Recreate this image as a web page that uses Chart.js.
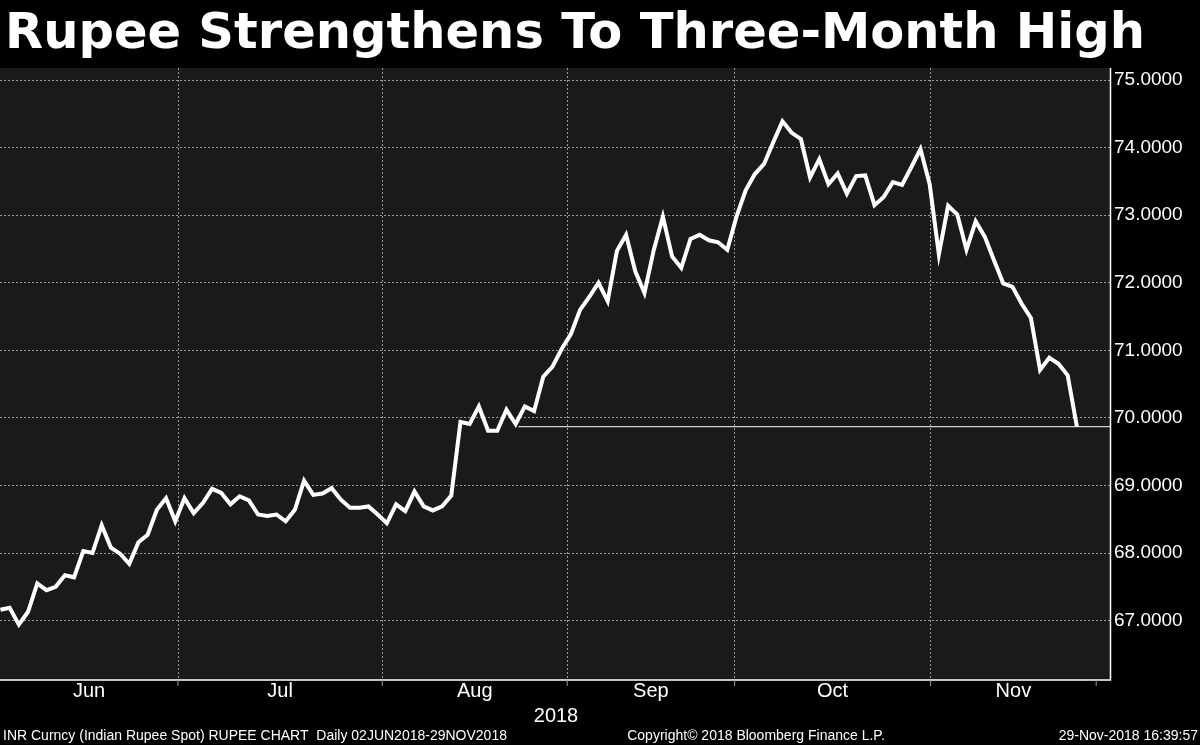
<!DOCTYPE html>
<html><head><meta charset="utf-8">
<script src="https://cdn.jsdelivr.net/npm/chart.js@4.4.1/dist/chart.umd.min.js"></script>
<style>html,body{margin:0;padding:0;background:#000;}#w{width:1200px;height:745px;position:relative;}</style>
</head><body><div id="w"><canvas id="c" width="1200" height="745"></canvas></div>
<script>
const title = "Rupee Strengthens To Three-Month High";
const monthNames = ["Jun","Jul","Aug","Sep","Oct","Nov"];
// month boundaries in trading-day index units
const monthEdges = [-0.5, 19.3, 41.5, 61.6, 79.8, 101.1, 119.1];
const yearLabel = "2018";
const footerLeft = "INR Curncy (Indian Rupee Spot) RUPEE CHART  Daily 02JUN2018-29NOV2018";
const footerMid = "Copyright\u00a9 2018 Bloomberg Finance L.P.";
const footerRight = "29-Nov-2018 16:39:57";
const yTicks = [67,68,69,70,71,72,73,74,75];
const inrValues = [
67.16,67.19,66.94,67.13,67.55,67.45,67.5,67.67,67.64,68.03,68.0,68.41,68.08,67.99,67.84,68.16,68.27,68.64,68.81,68.47,
68.81,68.59,68.74,68.95,68.89,68.72,68.84,68.78,68.57,68.55,68.57,68.47,68.64,69.07,68.86,68.88,68.96,68.79,68.67,68.67,
68.69,68.57,68.44,68.72,68.62,68.91,68.69,68.63,68.69,68.85,69.94,69.91,70.17,69.81,69.81,70.12,69.91,70.17,70.1,
70.61,70.76,71.02,71.24,71.6,71.79,72.0,71.73,72.47,72.71,72.17,71.85,72.48,72.98,72.39,72.22,72.65,72.71,72.63,72.6,
72.49,72.98,73.37,73.61,73.76,74.08,74.39,74.22,74.13,73.56,73.83,73.46,73.62,73.32,73.58,73.59,73.15,73.27,73.49,73.45,
73.71,73.98,73.46,72.42,73.14,73.01,72.49,72.91,72.68,72.33,71.99,71.94,71.69,71.48,70.71,70.89,70.8,70.63,69.87];
const lastValue = inrValues[inrValues.length-1];
const refLineStart = 56.3;

const xMax = 120.6;
const pts = inrValues.map((v,i)=>({x:i,y:v}));

const bgPlugin = {
  id:'bg',
  beforeDraw(ch){
    const {ctx, chartArea:a} = ch;
    ctx.save();
    ctx.fillStyle='#000'; ctx.fillRect(0,0,ch.width,ch.height);
    ctx.fillStyle='#1a1a1a'; ctx.fillRect(a.left,a.top,a.right-a.left,a.bottom-a.top);
    ctx.restore();
  },
  afterDraw(ch){
    const {ctx, chartArea:a} = ch;
    const xs = ch.scales.x;
    ctx.save();
    ctx.strokeStyle='#fff'; ctx.lineWidth=1.5;
    ctx.beginPath(); ctx.moveTo(a.right+0.5,a.top); ctx.lineTo(a.right+0.5,a.bottom); ctx.lineTo(a.left,a.bottom); ctx.stroke();
    ctx.strokeStyle='#999'; ctx.lineWidth=1;
    ctx.fillStyle='#fff'; ctx.textAlign='center'; ctx.textBaseline='middle';
    ctx.font='20px "Liberation Sans Narrow", "Liberation Sans", sans-serif';
    for(let i=0;i<monthNames.length;i++){
      const x0 = xs.getPixelForValue(monthEdges[i]), x1 = xs.getPixelForValue(monthEdges[i+1]);
      ctx.fillText(monthNames[i], (Math.max(x0,0)+x1)/2, a.bottom+11);
      ctx.beginPath(); ctx.moveTo(x1,a.bottom); ctx.lineTo(x1,a.bottom+6); ctx.stroke();
    }
    ctx.fillText(yearLabel, 556, a.bottom+36);
    ctx.font='14px "Liberation Sans Narrow", "Liberation Sans", sans-serif';
    ctx.textAlign='left'; ctx.fillText(footerLeft, 3, 736);
    ctx.textAlign='center'; ctx.fillText(footerMid, 756, 736);
    ctx.textAlign='right'; ctx.fillText(footerRight, 1198, 736);
    ctx.textAlign='left'; ctx.textBaseline='middle';
    ctx.font='bold 48px "DejaVu Sans", sans-serif';
    const w = ctx.measureText(title).width;
    ctx.save(); ctx.translate(5,35); ctx.scale(1140/w,1.05); ctx.fillText(title,0,0); ctx.restore();
    ctx.restore();
  }
};

new Chart(document.getElementById('c'),{
  type:'line',
  data:{datasets:[
    {data:pts, borderColor:'#fff', borderWidth:4, pointRadius:0, tension:0, borderJoinStyle:'miter'},
    {data:[{x:refLineStart,y:lastValue},{x:xMax,y:lastValue}], borderColor:'#fff', borderWidth:1, pointRadius:0}
  ]},
  plugins:[bgPlugin],
  options:{
    responsive:false, animation:false, events:[],
    layout:{padding:{top:68,left:0,right:0,bottom:0}},
    plugins:{legend:{display:false},tooltip:{enabled:false}},
    scales:{
      x:{type:'linear', min:-0.05, max:xMax, afterFit(s){s.height=65;},
        afterBuildTicks(s){s.ticks=monthEdges.slice(1,-1).map(v=>({value:v}));},
        ticks:{display:false},
        border:{display:false, dash:[2,2]},
        grid:{color:'#9a9a9a', lineWidth:1, drawTicks:false},
      },
      y:{position:'right', min:66.12, max:75.18, afterFit(s){s.width=90;},
        afterBuildTicks(s){s.ticks=yTicks.map(v=>({value:v}));},
        ticks:{color:'#fff', font:{size:19, family:'"Liberation Sans Narrow","Liberation Sans",sans-serif'}, padding:4,
          callback:v=>v.toFixed(4)},
        border:{display:false, dash:[2,2]},
        grid:{color:'#9a9a9a', lineWidth:1, drawTicks:false}
      }
    }
  }
});
</script></body></html>
